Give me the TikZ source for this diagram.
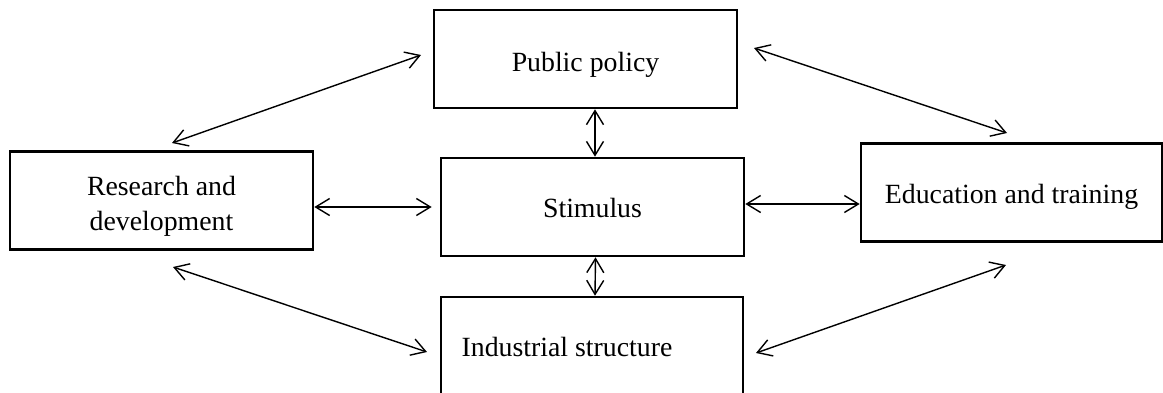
\documentclass[tikz,border=0pt]{standalone}
\usepackage{fontspec}
\setmainfont{Liberation Serif}
\usetikzlibrary{arrows.meta}
% lower a node's text without changing the node's size
\newcommand\lowtext[2]{\raisebox{-#1pt}[\height][\depth]{#2}}
\begin{document}
\begin{tikzpicture}[x=1pt,y=-1pt,
  box/.style={draw, line width=2.6pt, minimum width=303pt, minimum height=98pt,
    inner sep=0pt, align=center, font=\fontsize{27.8}{35}\selectfont},
  biarrow/.style={line width=1.4pt,
    {Straight Barb[length=14pt,width=17pt,line width=1.4pt]}-{Straight Barb[length=14pt,width=17pt,line width=1.4pt]}}]
\useasboundingbox (0,0) rectangle (1163,392);
\clip (0,0) rectangle (1163,392);

% boxes
\node[box] (pp)  at (585.5,59)  {\lowtext{6}{Public policy}};
\node[box] (rd)  at (161.5,200.5) {\lowtext{5}{\begin{tabular}{@{}c@{}}Research and\\development\end{tabular}}};
\node[box] (st)  at (592.5,207) {\lowtext{1}{Stimulus}};
\node[box, minimum width=301pt] (et) at (1011.5,192.5) {\lowtext{4}{Education and training}};
\node[box, minimum width=302pt] (ind) at (592,346) {\hspace*{-50pt}\lowtext{1}{Industrial structure}};

% free ends of the diagonal links
\coordinate (rdpp1) at (172,143);
\coordinate (rdpp2) at (421,55);
\coordinate (ppet1) at (754,48);
\coordinate (ppet2) at (1007,133);
\coordinate (rdin1) at (173,267);
\coordinate (rdin2) at (427,352);
\coordinate (inet1) at (756,353);
\coordinate (inet2) at (1006,265);

% links
\draw[biarrow] (rdpp1) -- (rdpp2);
\draw[biarrow] (ppet1) -- (ppet2);
\draw[biarrow] (rdin1) -- (rdin2);
\draw[biarrow] (inet1) -- (inet2);
\draw[biarrow] ([xshift=2.5pt]st.north |- pp.south) -- ([xshift=2.5pt]st.north);
\draw[biarrow] ([xshift=3pt]st.south) -- ([xshift=3pt]ind.north);
\draw[biarrow] (rd.east |- st.west) -- ([xshift=-8pt]st.west);
\draw[biarrow] ([yshift=3pt]st.east) -- ([yshift=3pt]et.west |- st.east);
\end{tikzpicture}
\end{document}
